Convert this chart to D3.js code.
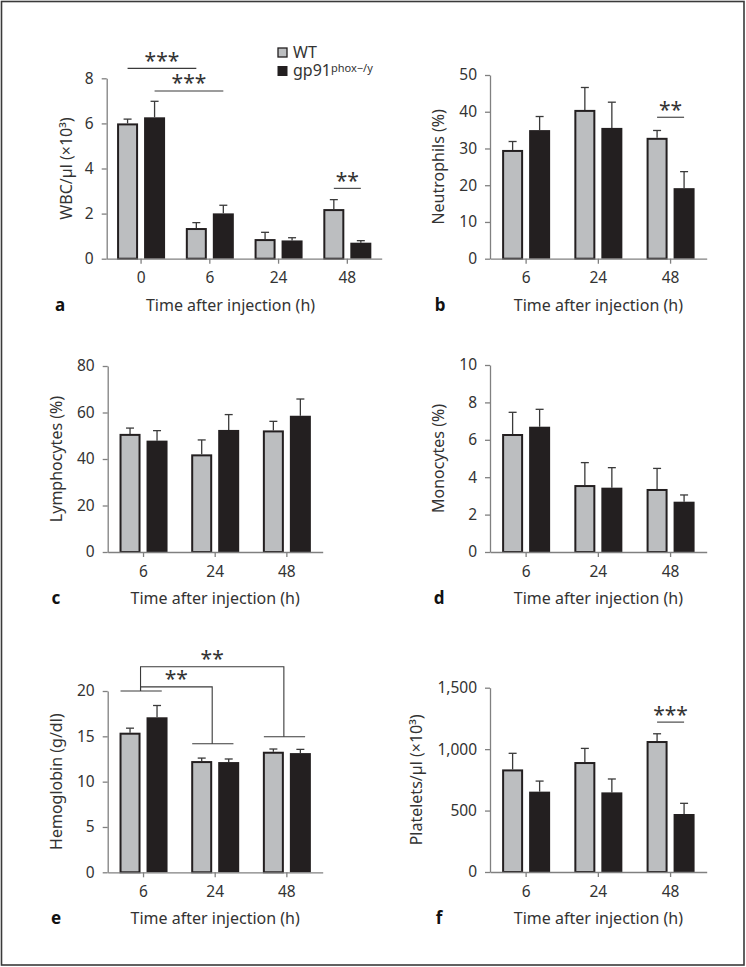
<!DOCTYPE html>
<html><head><meta charset="utf-8">
<script src="https://cdn.jsdelivr.net/npm/d3@7"></script>
<style>
body{margin:0;background:#fff}
text{font-family:"Noto Sans","Open Sans",sans-serif;fill:#333}
</style>
</head><body>
<svg id="fig" width="746" height="967"></svg>
<script>
// ---------- data ----------
const timesA = ["0", "6", "24", "48"];
const timesB = ["6", "24", "48"];
const seriesNames = ["WT", "gp91"];

const wbcWT = [6.0, 1.36, 0.87, 2.2];
const wbcWTErr = [0.19, 0.24, 0.30, 0.42];
const wbcKO = [6.27, 2.01, 0.81, 0.71];
const wbcKOErr = [0.71, 0.36, 0.12, 0.09];

const neutWT = [29.6, 40.5, 32.9];
const neutWTErr = [2.3, 6.1, 2.0];
const neutKO = [35.0, 35.6, 19.2];
const neutKOErr = [3.7, 7.0, 4.5];

const lymphWT = [50.8, 42.0, 52.3];
const lymphWTErr = [2.5, 6.2, 3.9];
const lymphKO = [47.9, 52.5, 58.6];
const lymphKOErr = [4.3, 6.6, 7.2];

const monoWT = [6.31, 3.58, 3.37];
const monoWTErr = [1.16, 1.2, 1.1];
const monoKO = [6.70, 3.44, 2.69];
const monoKOErr = [0.93, 1.07, 0.36];

const hbWT = [15.4, 12.27, 13.3];
const hbWTErr = [0.5, 0.33, 0.3];
const hbKO = [17.1, 12.16, 13.15];
const hbKOErr = [1.3, 0.34, 0.41];

const pltWT = [835, 895, 1066];
const pltWTErr = [131, 111, 59];
const pltKO = [654, 648, 472];
const pltKOErr = [86, 109, 87];

const ticksA = [0, 2, 4, 6, 8];
const ticksB = [0, 10, 20, 30, 40, 50];
const ticksC = [0, 20, 40, 60, 80];
const ticksD = [0, 2, 4, 6, 8, 10];
const ticksE = [0, 5, 10, 15, 20];
const ticksF = [0, 500, 1000, 1500];

// significance: pairs of [series, group] compared, level in data units, label
const sigA = [
  {from: ["WT", "0"], to: ["WT", "6"], y: 8.44, label: "***"},
  {from: ["gp91", "0"], to: ["gp91", "6"], y: 7.44, label: "***"},
  {from: ["WT", "48"], to: ["gp91", "48"], y: 3.12, label: "**"}
];
const sigB = [{from: ["WT", "48"], to: ["gp91", "48"], y: 38.5, label: "**"}];
const sigF = [{from: ["WT", "48"], to: ["gp91", "48"], y: 1220, label: "***"}];
// hemoglobin group brackets
const hbGroupLines = [{g: "6", y: 20.0}, {g: "24", y: 14.18}, {g: "48", y: 14.95}];
const hbBrackets = [{from: "6", to: "24", top: 20.46, label: "**"}, {from: "6", to: "48", top: 22.67, label: "**"}];

// ---------- layout ----------
const panels = [
  {letter: "a", cats: timesA, wt: wbcWT, wtE: wbcWTErr, ko: wbcKO, koE: wbcKOErr, ticks: ticksA,
   title: "WBC/µl (×10³)", left: 106.7, right: 381.7, top: 78.3, bottom: 258.7, titleX: 66.7, letterX: 60, xTitleX: 230.5, sig: sigA},
  {letter: "b", cats: timesB, wt: neutWT, wtE: neutWTErr, ko: neutKO, koE: neutKOErr, ticks: ticksB,
   title: "Neutrophils (%)", left: 490, right: 706.7, top: 75, bottom: 258.7, titleX: 438.3, letterX: 440, sig: sigB},
  {letter: "c", cats: timesB, wt: lymphWT, wtE: lymphWTErr, ko: lymphKO, koE: lymphKOErr, ticks: ticksC,
   title: "Lymphocytes (%)", left: 107.7, right: 322.7, top: 366, bottom: 552, titleX: 56.7, letterX: 56, sig: []},
  {letter: "d", cats: timesB, wt: monoWT, wtE: monoWTErr, ko: monoKO, koE: monoKOErr, ticks: ticksD,
   title: "Monocytes (%)", left: 490, right: 706.7, top: 365, bottom: 552, titleX: 438.3, letterX: 439, sig: []},
  {letter: "e", cats: timesB, wt: hbWT, wtE: hbWTErr, ko: hbKO, koE: hbKOErr, ticks: ticksE,
   title: "Hemoglobin (g/dl)", left: 107.7, right: 322.7, top: 691, bottom: 872.3, titleX: 56.7, letterX: 56, sig: []},
  {letter: "f", cats: timesB, wt: pltWT, wtE: pltWTErr, ko: pltKO, koE: pltKOErr, ticks: ticksF,
   title: "Platelets/µl (×10³)", left: 490, right: 706.7, top: 687.7, bottom: 872, titleX: 416.7, letterX: 439, sig: sigF}
];

const FONT = '"Noto Sans","Open Sans",sans-serif';
const svg = d3.select("#fig");
const INK = "#231f20", GREY = "#bcbec0", AXIS = "#808080", TXT = "#333";

// frame
svg.append("rect").attr("x", 1.5).attr("y", 1.5).attr("width", 742.5).attr("height", 963.5)
  .attr("fill", "none").attr("stroke", "#3a3a3a").attr("stroke-width", 1.6);

const barW = 21, gap = 6, groupW = 2 * barW + gap;

panels.forEach(p => {
  const g = svg.append("g");
  const step = (p.right - p.left) / p.cats.length;
  const pin = 1 - groupW / step;
  const x0 = d3.scaleBand().domain(p.cats).range([p.left, p.right]).paddingInner(pin).paddingOuter(pin / 2);
  const x1 = d3.scaleBand().domain(seriesNames).range([0, x0.bandwidth()]).paddingInner(gap / (barW + gap)).paddingOuter(0);
  const yMax = p.ticks[p.ticks.length - 1];
  const y = d3.scaleLinear().domain([0, yMax]).range([p.bottom, p.top]);
  const fmt = yMax >= 1000 ? d3.format(",") : d3.format("d");

  const rows = p.cats.map((c, i) => [
    {s: "WT", c, v: p.wt[i], e: p.wtE[i]},
    {s: "gp91", c, v: p.ko[i], e: p.koE[i]}
  ]).flat();

  // error bars (upper only)
  const eb = g.append("g").attr("stroke", "#3a3a3a").attr("stroke-width", 1.3).attr("fill", "none");
  rows.forEach(r => {
    const cx = x0(r.c) + x1(r.s) + x1.bandwidth() / 2;
    eb.append("line").attr("x1", cx).attr("x2", cx).attr("y1", y(r.v)).attr("y2", y(r.v + r.e));
    eb.append("line").attr("x1", cx - 4).attr("x2", cx + 4).attr("y1", y(r.v + r.e)).attr("y2", y(r.v + r.e));
  });

  // bars
  g.append("g").selectAll("rect").data(rows).join("rect")
    .attr("x", r => x0(r.c) + x1(r.s) + (r.s === "WT" ? 1 : 0))
    .attr("width", r => x1.bandwidth() - (r.s === "WT" ? 2 : 0))
    .attr("y", r => y(r.v) + (r.s === "WT" ? 1 : 0))
    .attr("height", r => y(0) - y(r.v) - (r.s === "WT" ? 1 : 0))
    .attr("fill", r => r.s === "WT" ? GREY : INK)
    .attr("stroke", r => r.s === "WT" ? INK : "none")
    .attr("stroke-width", 2);

  // axes
  const ya = g.append("g").attr("transform", `translate(${p.left},0)`)
    .call(d3.axisLeft(y).tickValues(p.ticks).tickFormat(fmt).tickSize(5).tickSizeOuter(0).tickPadding(8));
  const xa = g.append("g").attr("transform", `translate(0,${p.bottom})`)
    .call(d3.axisBottom(x0).tickSize(5).tickSizeOuter(0).tickPadding(8.5));
  [ya, xa].forEach(a => {
    a.select(".domain").attr("stroke", AXIS).attr("stroke-width", 1.3);
    a.selectAll(".tick line").attr("stroke", AXIS).attr("stroke-width", 1.3);
    a.selectAll(".tick text").attr("fill", TXT).style("font-size", "15.5px").style("font-family", FONT);
  });

  // y title
  g.append("text").attr("transform", `translate(${p.titleX},${(p.top + p.bottom) / 2}) rotate(-90)`)
    .attr("text-anchor", "middle").attr("dy", "0.35em").style("font-size", "16px").text(p.title);
  // x title
  g.append("text").attr("x", p.xTitleX !== undefined ? p.xTitleX : (p.left + p.right) / 2).attr("y", p.bottom + 52)
    .attr("text-anchor", "middle").style("font-size", "16px").text("Time after injection (h)");
  // letter
  g.append("text").attr("x", p.letterX).attr("y", p.bottom + 52).attr("text-anchor", "middle")
    .style("font-size", "17px").style("font-weight", "bold").style("fill", "#111").text(p.letter);

  // significance
  const cx = (s, c) => x0(c) + x1(s) + x1.bandwidth() / 2;
  p.sig.forEach(sg => {
    const xa1 = cx(sg.from[0], sg.from[1]), xa2 = cx(sg.to[0], sg.to[1]);
    g.append("line").attr("x1", xa1).attr("x2", xa2).attr("y1", y(sg.y)).attr("y2", y(sg.y))
      .attr("stroke", "#3a3a3a").attr("stroke-width", 1.1);
    g.append("text").attr("x", (xa1 + xa2) / 2).attr("y", y(sg.y) - 0.5).attr("text-anchor", "middle")
      .style("font-size", "21px").text(sg.label);
  });

  if (p.letter === "e") {
    const gl = g.append("g").attr("stroke", "#3a3a3a").attr("stroke-width", 1.1).attr("fill", "none");
    hbGroupLines.forEach(l => {
      gl.append("line").attr("x1", x0(l.g) + 1).attr("x2", x0(l.g) + groupW * 0.88)
        .attr("y1", y(l.y)).attr("y2", y(l.y));
    });
    const edge = c => x0(c) + x1("WT") + x1.bandwidth();
    hbBrackets.forEach(b => {
      const yFrom = y(hbGroupLines.find(l => l.g === b.from).y);
      const yTo = y(hbGroupLines.find(l => l.g === b.to).y);
      const xF = edge(b.from), xT = edge(b.to), yt = y(b.top);
      gl.append("path").attr("d", `M${xF},${yFrom}V${yt}H${xT}V${yTo}`);
      g.append("text").attr("x", (xF + xT) / 2).attr("y", yt - 0.5).attr("text-anchor", "middle")
        .style("font-size", "21px").text(b.label);
    });
  }

  // legend in panel a
  if (p.letter === "a") {
    const lg = svg.append("g");
    const items = [{s: "WT", base: 57.5}, {s: "gp91", base: 76}];
    items.forEach(it => {
      lg.append("rect").attr("x", it.s === "WT" ? 278 : 277.5).attr("y", it.base - (it.s === "WT" ? 9.5 : 10))
        .attr("width", it.s === "WT" ? 9 : 10).attr("height", it.s === "WT" ? 9 : 10)
        .attr("fill", it.s === "WT" ? GREY : INK).attr("stroke", INK).attr("stroke-width", it.s === "WT" ? 1.3 : 0);
      const t = lg.append("text").attr("x", 293).attr("y", it.base).style("font-size", "16px");
      if (it.s === "WT") t.text("WT");
      else {
        t.append("tspan").text("gp91");
        t.append("tspan").attr("dy", -4.5).style("font-size", "11px").text("phox−/y");
      }
    });
  }
});
</script>
</body></html>
